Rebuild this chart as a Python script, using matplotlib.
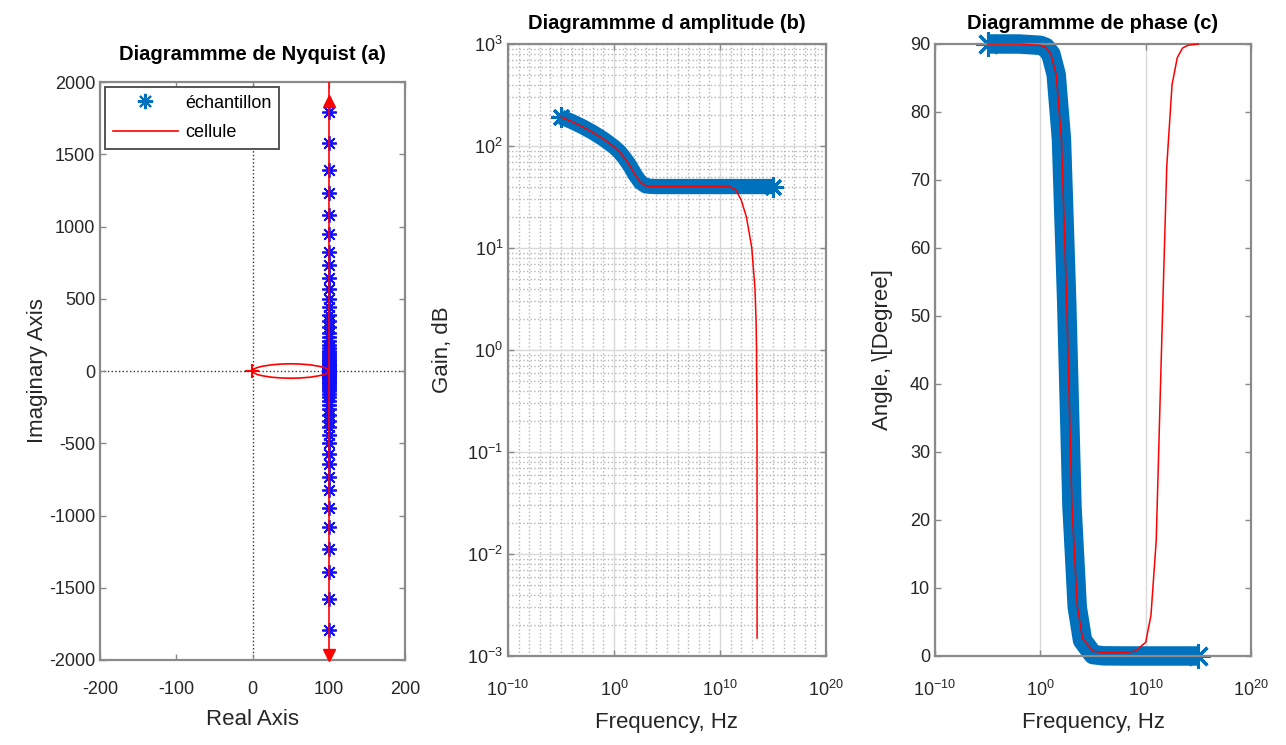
import matplotlib
matplotlib.use('Agg')
import numpy as np
import matplotlib.pyplot as plt
from matplotlib.lines import Line2D
from matplotlib.ticker import FixedLocator, LogLocator, MultipleLocator, NullFormatter

plt.rcParams['font.family'] = ['Liberation Sans', 'DejaVu Sans']
plt.rcParams['mathtext.fontset'] = 'custom'
plt.rcParams['mathtext.rm'] = 'Liberation Sans'
plt.rcParams['mathtext.it'] = 'Liberation Sans:italic'
plt.rcParams['mathtext.bf'] = 'Liberation Sans:bold'
plt.rcParams['axes.unicode_minus'] = False

# --- Nyquist: measured sample (real part constant, imaginary magnitudes)
samp_re = 100
samp_im = [1792, 1580, 1393, 1232, 1082, 946, 824, 732, 647, 571, 501, 442, 390,
           343, 302, 266, 235, 207, 182, 160, 141, 124, 110, 97, 85, 75, 66, 58,
           51, 45, 40, 35, 31, 27, 24, 21, 18, 16, 14, 12, 11, 9, 8, 7, 6, 5, 4,
           3, 2, 1, 0]

# --- Nyquist: cell model, vertical branch and high-frequency loop
cell_line_re = [100, 100]
cell_line_im = [-2000, 2000]
cell_loop_re = [100, 98, 94, 87, 75, 63, 50, 37, 25, 13, 6, 2, 0,
                2, 6, 13, 25, 37, 50, 63, 75, 87, 94, 98, 100]
cell_loop_im = [0, 14, 24, 33, 43, 48, 50, 48, 43, 33, 24, 14, 0,
                -14, -24, -33, -43, -48, -50, -48, -43, -33, -24, -14, 0]
arrow_im = [1870, -1965]

# --- Amplitude (log10 of frequency in Hz)
amp_logf = [-5, -4, -3, -2, -1, 0, 0.5, 1, 1.5, 2, 2.5, 3, 3.5, 4, 6, 8, 10, 12, 15]
amp_samp = [192, 174, 155, 136, 117, 98, 88, 76, 64, 52, 44, 40.6, 40.2, 40,
            40, 40, 40, 40, 40]
amp_cell_logf = [-5, -4, -3, -2, -1, 0, 0.5, 1, 1.5, 2, 2.5, 3, 3.5, 4, 6, 8,
                 10, 11, 11.5, 12, 12.5, 13, 13.3, 13.4, 13.45, 13.49, 13.499,
                 13.4999]
amp_cell = [192, 174, 155, 136, 117, 98, 88, 76, 64, 52, 44, 40.6, 40.2, 40,
            40, 40, 40, 39.6, 37, 29.6, 20, 10, 4, 2, 1, 0.2, 0.02, 0.0015]

# --- Phase
ph_logf = [-5, -2, 0, 0.5, 1, 1.5, 2, 2.5, 3, 3.5, 4, 5, 6, 8, 10, 12, 15]
ph_samp = [90, 89.99, 89.8, 89.5, 88.5, 85.5, 76, 52, 22, 7.2, 2.3, 0.2, 0.02,
           0, 0, 0, 0]
ph_cell_logf = [-5, -2, 0, 0.5, 1, 1.5, 2, 2.5, 3, 3.5, 4, 5, 6, 8, 9, 10,
                10.5, 11, 11.5, 12, 12.5, 13, 13.5, 14, 15]
ph_cell = [90, 89.99, 89.8, 89.5, 88.5, 85.5, 76, 52, 22, 7.4, 2.6, 0.7, 0.5,
           0.5, 0.7, 2, 6, 17, 45, 72, 84, 88, 89.4, 89.8, 90]

BLUE = '#0072BD'
EDGE = '#8a8a8a'
TXT = '#262626'
STAR = (8, 2, 0)


def style_axes(ax):
    for s in ax.spines.values():
        s.set_color(EDGE)
        s.set_linewidth(1.6)
    ax.tick_params(which='both', direction='in', top=True, right=True,
                   colors=EDGE, labelcolor=TXT, labelsize=13, length=4, width=1)


def log_freq_axis(ax):
    ax.set_xscale('log')
    ax.set_xlim(1e-10, 1e20)
    ax.xaxis.set_major_locator(FixedLocator([1e-10, 1e0, 1e10, 1e20]))
    ax.xaxis.set_minor_locator(LogLocator(base=10, subs=[1.0], numticks=100))
    ax.xaxis.set_minor_formatter(NullFormatter())


def band(ax, x, y, width):
    # dense sample markers drawn as a thick band with asterisk ends
    ax.plot(x, y, color=BLUE, lw=width, solid_joinstyle='round',
            solid_capstyle='butt', clip_on=False, zorder=2)
    ax.plot(x, y, ls='none', marker=STAR, ms=width + 4, mew=2.2, color=BLUE,
            markevery=[0, len(x) - 1], clip_on=False, zorder=2)


fig = plt.figure(figsize=(12.86, 7.45), dpi=100)

# (a) Nyquist
ax1 = fig.add_axes([0.0778, 0.1141, 0.2372, 0.7758])
ax1.axhline(0, color='#333333', ls=':', lw=1.0, zorder=0)
ax1.axvline(0, color='#333333', ls=':', lw=1.0, zorder=0)
im = np.array(samp_im)
ax1.plot([samp_re] * len(im), im, ls='none', marker=STAR, ms=10.5, mew=1.3,
         color='#1010ff', zorder=2)
ax1.plot([samp_re] * len(im), -im, ls='none', marker=STAR, ms=10.5, mew=1.3,
         color='#1010ff', zorder=2)
ax1.plot(cell_line_re, cell_line_im, color='red', lw=1.2, zorder=3)
ax1.plot(cell_loop_re, cell_loop_im, color='red', lw=1.2, zorder=3)
ax1.plot([100], [arrow_im[0]], ls='none', marker='^', ms=8, color='red', zorder=3)
ax1.plot([100], [arrow_im[1]], ls='none', marker='v', ms=8, color='red',
         zorder=3, clip_on=False)
ax1.plot([-1], [0], ls='none', marker='+', ms=10, mew=1.5, color='red', zorder=3)
ax1.set_xlim(-200, 200)
ax1.set_ylim(-2000, 2000)
ax1.xaxis.set_major_locator(MultipleLocator(100))
ax1.yaxis.set_major_locator(MultipleLocator(500))
style_axes(ax1)
ax1.tick_params(axis='x', pad=15)
ax1.set_title('Diagrammme de Nyquist (a)', fontsize=14.5, fontweight='bold', pad=16)
ax1.set_xlabel('Real Axis', fontsize=16, color=TXT, labelpad=8)
ax1.set_ylabel('Imaginary Axis', fontsize=16, color=TXT, labelpad=1)
handles = [Line2D([], [], ls='none', marker=STAR, ms=11, mew=1.5, color=BLUE),
           Line2D([], [], color='red', lw=1.2)]
leg = ax1.legend(handles, ['échantillon', 'cellule'], loc='upper left',
                 fontsize=13, handlelength=3.6, handletextpad=0.4,
                 labelspacing=0.7, borderaxespad=0.3, fancybox=False,
                 framealpha=1, edgecolor='#555555')
leg.get_frame().set_linewidth(1.4)

# (b) amplitude
ax2 = fig.add_axes([0.3950, 0.1195, 0.2473, 0.8215])
log_freq_axis(ax2)
ax2.set_yscale('log')
ax2.set_ylim(1e-3, 1e3)
ax2.yaxis.set_major_locator(LogLocator(base=10, numticks=20))
ax2.yaxis.set_minor_locator(LogLocator(base=10, subs=np.arange(2, 10), numticks=20))
ax2.yaxis.set_minor_formatter(NullFormatter())
ax2.grid(True, which='major', color='#d9d9d9', lw=1.0, ls='-')
ax2.grid(True, which='minor', color='#b5b5b5', lw=1.0, ls=':')
ax2.set_axisbelow(True)
band(ax2, 10.0 ** np.array(amp_logf), amp_samp, 11)
ax2.plot(10.0 ** np.array(amp_cell_logf), amp_cell, color='red', lw=1.1, zorder=3)
style_axes(ax2)
ax2.tick_params(which='minor', length=0)
ax2.tick_params(axis='x', pad=17)
ax2.set_title('Diagrammme d amplitude (b)', fontsize=14.5, fontweight='bold', pad=11)
ax2.set_xlabel('Frequency, Hz', fontsize=16, color=TXT, labelpad=9)
ax2.set_ylabel('Gain, dB', fontsize=16, color=TXT, labelpad=10)

# (c) phase
ax3 = fig.add_axes([0.7271, 0.1195, 0.2457, 0.8215])
log_freq_axis(ax3)
ax3.set_ylim(0, 90)
ax3.yaxis.set_major_locator(MultipleLocator(10))
ax3.grid(True, axis='x', which='major', color='#d9d9d9', lw=1.0, ls='-')
ax3.set_axisbelow(True)
band(ax3, 10.0 ** np.array(ph_logf), ph_samp, 14)
ax3.plot(10.0 ** np.array(ph_cell_logf), ph_cell, color='red', lw=1.1, zorder=3,
         clip_on=False)
style_axes(ax3)
ax3.tick_params(which='minor', length=0)
ax3.tick_params(axis='x', pad=17)
ax3.set_title('Diagrammme de phase (c)', fontsize=14.5, fontweight='bold', pad=11)
ax3.set_xlabel('Frequency, Hz', fontsize=16, color=TXT, labelpad=9)
ax3.set_ylabel('Angle, \\[Degree]', fontsize=16, color=TXT, labelpad=12)

fig.savefig('out.png', dpi=100)
plt.close(fig)
